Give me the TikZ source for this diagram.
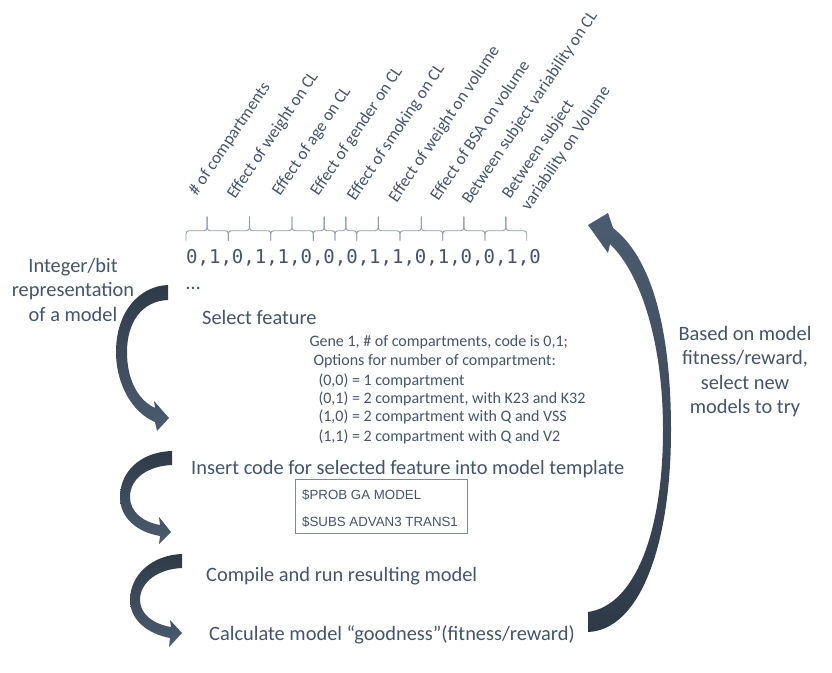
\documentclass[tikz,border=0pt]{standalone}
\usepackage{fontspec}
\setmainfont{Carlito}
\newfontfamily\digitfont{DejaVu Sans Mono}
\newfontfamily\arialfont{Liberation Sans}
\definecolor{txtc}{HTML}{44546A}
\definecolor{brcol}{HTML}{8D9CAD}
\definecolor{boxcol}{HTML}{7A8A9C}
\definecolor{arrdark}{HTML}{2F3A47}
\definecolor{arrlight}{HTML}{4C5C70}
\begin{document}
\begin{tikzpicture}[x=1pt,y=-1pt,
  txt/.style={text=txtc, inner sep=0pt, font=\fontsize{20.4}{24.5}\selectfont},
  stepline/.style={txt, anchor=base west},
  lab/.style={text=txtc, inner sep=0pt, font=\fontsize{17}{20}\selectfont, anchor=base west, rotate=56},
  gene/.style={text=txtc, inner sep=0pt, font=\fontsize{16}{19}\selectfont, anchor=base west},
  brc/.style={draw=brcol, line width=0.9pt, rounded corners=3pt},
  codebox/.style={draw=boxcol, line width=0.9pt, minimum width=172pt, minimum height=54pt, inner sep=0pt},
  codetxt/.style={text=txtc, inner sep=0pt, anchor=base west, font=\arialfont\fontsize{13.3}{16}\selectfont},
  leftarr/.style={top color=arrdark, bottom color=arrlight, draw=none},
  rightarr/.style={top color=arrlight, bottom color=arrdark, draw=none}]
\useasboundingbox (0,0) rectangle (832,672);

% rotated gene labels
\node[lab] (l1) at (196.7,196.7) {\# of compartments};
\node[lab] (l2) at (235,200) {Effect of weight on CL};
\node[lab] (l3) at (280,196.7) {Effect of age on CL};
\node[lab] (l4) at (318.3,196.7) {Effect of gender on CL};
\node[lab] (l5) at (355,201.7) {Effect of smoking on CL};
\node[lab] (l6) at (396.7,203.3) {Effect of weight on volume};
\node[lab] (l7) at (438.3,201.7) {Effect of BSA on volume};
\node[lab] (l8) at (470,205) {Between subject variability on CL};
\node[lab] (l9a) at (510,200) {Between subject};
\node[lab] (l9b) at (529,212) {variability on Volume};

% braces
\foreach \a/\b in {186/228.3, 228.3/270.7, 270.7/313.3, 313.3/335, 335/356.7, 356.7/400, 400/442.7, 442.7/485, 485/526.7}{
  \pgfmathsetmacro\m{(\a+\b)/2}
  \draw[brc] (\a,240.7) -- (\a,230.7) -- (\m,230.7) -- (\m,216.7);
  \draw[brc] (\b,240.7) -- (\b,230.7) -- (\m,230.7) -- (\m,216.7);
}

% bit string
\node[text=txtc, inner sep=0pt, anchor=base west, font=\digitfont\fontsize{19}{22}\selectfont] (bits) at (186,263.3) {0,1,0,1,1,0,0,0,1,1,0,1,0,0,1,0};
\node[stepline] (dots) at (186,289) {…};

% left label
\node[txt, align=center] (intrep) at (73,289.5) {Integer/bit\\representation\\of a model};

% steps
\node[stepline] (select) at (202,324.5) {Select feature};
\node[gene] (g1) at (309.3,346.7) {Gene 1, \# of compartments, code is 0,1;};
\node[gene] (g2) at (313.3,365) {Options for number of compartment:};
\node[gene] (g3) at (318.3,385) {(0,0) = 1 compartment};
\node[gene] (g4) at (318.3,403.3) {(0,1) = 2 compartment, with K23 and K32};
\node[gene] (g5) at (318.3,421.7) {(1,0) = 2 compartment with Q and VSS};
\node[gene] (g6) at (318.3,441) {(1,1) = 2 compartment with Q and V2};

\node[stepline] (insert) at (191,474.5) {Insert code for selected feature into model template};
\node[codebox] (box) at (381,506) {};
\node[codetxt] (prob) at (302,499.8) {\$PROB GA MODEL};
\node[codetxt] (subs) at (302,526.8) {\$SUBS ADVAN3 TRANS1};

\node[stepline] (compile) at (206,581.5) {Compile and run resulting model};
\node[stepline] (calc) at (209,640.5) {Calculate model “goodness”(fitness/reward)};

% right label
\node[txt, align=center] (based) at (745,371.5) {Based on model\\fitness/reward,\\select new\\models to try};

% curved arrows (left)
\shade[leftarr] (168,285)
  .. controls (140,286) and (116,311) .. (116,352)
  .. controls (116,385) and (133,413) .. (155,422)
  -- (157,431) -- (169,418) -- (154,401) -- (155,408)
  .. controls (138,400) and (127,380) .. (127,352)
  .. controls (127,322) and (142,301) .. (168,300) -- cycle;

\shade[leftarr] (172,451)
  .. controls (140,452) and (120,472) .. (120,497)
  .. controls (120,518) and (137,532) .. (160,536)
  -- (159,544) -- (171,532) -- (159,517) -- (160,525)
  .. controls (143,522) and (130,512) .. (130,497)
  .. controls (130,478) and (148,466) .. (172,465) -- cycle;

\shade[leftarr] (182,554)
  .. controls (152,555) and (130,575) .. (130,600)
  .. controls (130,620) and (148,634) .. (170,638)
  -- (169,647) -- (182,633) -- (170,620) -- (171,627)
  .. controls (153,624) and (140,614) .. (140,600)
  .. controls (140,582) and (158,569) .. (182,568) -- cycle;

% big right arrow
\shade[rightarr] (588,612) -- (588,632)
  .. controls (640,630) and (671,545) .. (671,430)
  .. controls (671,330) and (652,258) .. (613,228)
  -- (608,213) -- (588,225) -- (608,253) -- (610,244)
  .. controls (642,275) and (663,345) .. (663,430)
  .. controls (663,530) and (636,605) .. (588,612) -- cycle;
\end{tikzpicture}
\end{document}
